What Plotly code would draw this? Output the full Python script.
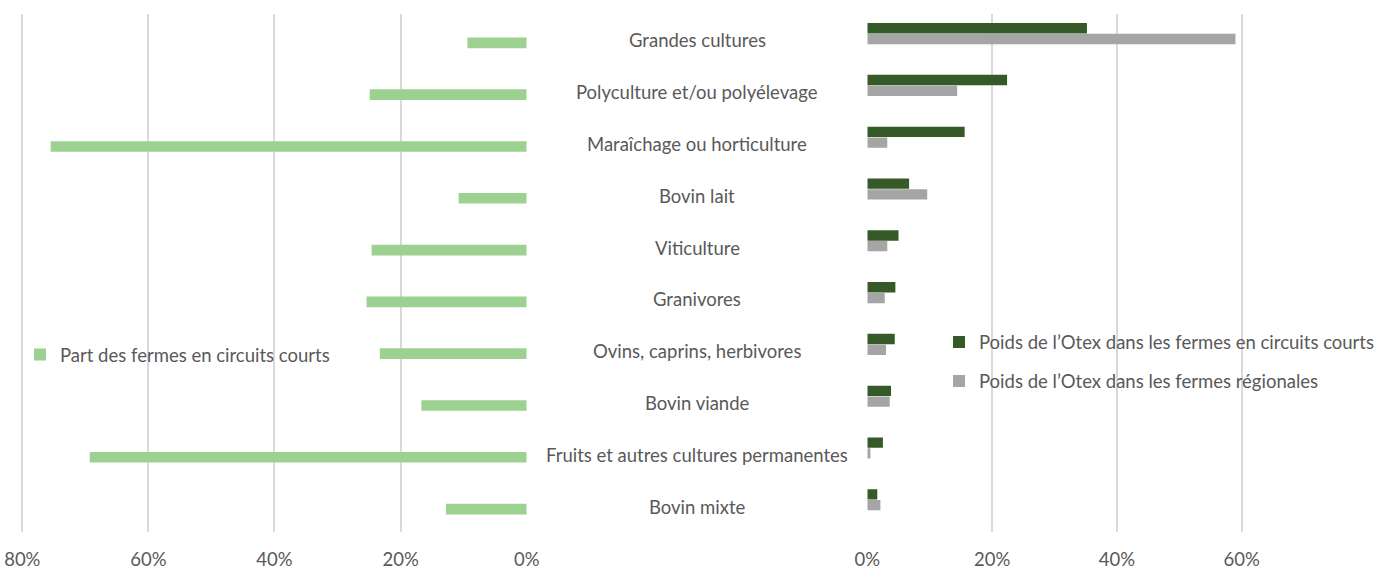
import plotly.graph_objects as go

categories = [
    "Grandes cultures",
    "Polyculture et/ou polyélevage",
    "Maraîchage ou horticulture",
    "Bovin lait",
    "Viticulture",
    "Granivores",
    "Ovins, caprins, herbivores",
    "Bovin viande",
    "Fruits et autres cultures permanentes",
    "Bovin mixte",
]
part_circuits_courts = [0.094, 0.249, 0.755, 0.108, 0.246, 0.254, 0.233, 0.167, 0.693, 0.128]
poids_circuits_courts = [0.352, 0.224, 0.156, 0.067, 0.050, 0.045, 0.044, 0.038, 0.025, 0.016]
poids_regionales = [0.590, 0.144, 0.032, 0.096, 0.032, 0.028, 0.030, 0.036, 0.005, 0.021]

left_ticks = [0, 0.2, 0.4, 0.6, 0.8]
right_ticks = [0, 0.2, 0.4, 0.6]

W, H = 1388, 570
FONT = "Lato"
FS = 18.5
TXT = "#595959"
GRID = "#D9D9D9"

# pixel scale of the left axis (px per 100 %)
L_ZERO = 526.7
L_SCALE = 630.5
L_MAX = 0.805

fig = go.Figure()

fig.add_trace(go.Bar(
    y=categories, x=part_circuits_courts, orientation="h",
    xaxis="x", yaxis="y", name="Part des fermes en circuits courts",
    marker=dict(color="#9DD192", line=dict(width=0)),
    width=0.205, offset=-0.045, legend="legend", showlegend=True, hoverinfo="x+y",
))
fig.add_trace(go.Bar(
    y=categories, x=poids_circuits_courts, orientation="h",
    xaxis="x2", yaxis="y", name="Poids de l\u2019Otex dans les fermes en circuits courts",
    marker=dict(color="#355A28", line=dict(width=0)),
    width=0.2, offset=-0.325, legend="legend2", legendgroup="a", showlegend=True,
    hoverinfo="x+y",
))
fig.add_trace(go.Bar(
    y=categories, x=poids_regionales, orientation="h",
    xaxis="x2", yaxis="y", name="Poids de l\u2019Otex dans les fermes régionales",
    marker=dict(color="#A5A5A5", line=dict(width=0)),
    width=0.2, offset=-0.118, legend="legend2", legendgroup="b", showlegend=True,
    hoverinfo="x+y",
))

# category labels in the central column
annotations = [
    dict(x=0, y=c, xref="x3", yref="y", text=c, showarrow=False,
         xanchor="center", yanchor="middle", yshift=-0.5,
         font=dict(family=FONT, size=FS, color=TXT))
    for c in categories
]

y0 = 1 - 532 / H
y1 = 1 - 14 / H

axis_common = dict(
    showgrid=True, gridcolor=GRID, gridwidth=2, zeroline=False, showline=False,
    tickformat=".0%", ticks="outside", ticklen=11, tickcolor="rgba(0,0,0,0)",
    tickfont=dict(family=FONT, size=FS, color=TXT), anchor="y", fixedrange=True,
    automargin=False,
)

fig.update_layout(
    width=W, height=H, autosize=False,
    margin=dict(l=0, r=0, t=0, b=0, pad=0),
    paper_bgcolor="white", plot_bgcolor="white",
    barmode="overlay",
    showlegend=True,
    font=dict(family=FONT, size=FS, color=TXT),
    xaxis=dict(domain=[(L_ZERO - L_MAX * L_SCALE) / W, L_ZERO / W], range=[L_MAX, 0],
               tickvals=left_ticks, **axis_common),
    xaxis2=dict(domain=[867.3 / W, 1366.5 / W], range=[0, 0.8], tickvals=right_ticks, **axis_common),
    xaxis3=dict(domain=[527.5 / W, 866.5 / W], range=[-1, 1], visible=False, anchor="y",
                automargin=False, fixedrange=True),
    yaxis=dict(domain=[y0, y1], type="category", categoryarray=categories,
               autorange="reversed", visible=False, anchor="x", automargin=False,
               fixedrange=True),
    annotations=annotations,
    legend=dict(visible=True, x=20 / W, xanchor="left", y=1 - 355 / H, yanchor="middle",
                bgcolor="rgba(0,0,0,0)", font=dict(family=FONT, size=FS, color=TXT),
                itemwidth=30),
    legend2=dict(visible=True, x=939 / W, xanchor="left", y=1 - 362 / H, yanchor="middle",
                 bgcolor="rgba(0,0,0,0)", font=dict(family=FONT, size=FS, color=TXT),
                 traceorder="grouped", tracegroupgap=12, itemwidth=30),
)

fig.write_html("out.html")
